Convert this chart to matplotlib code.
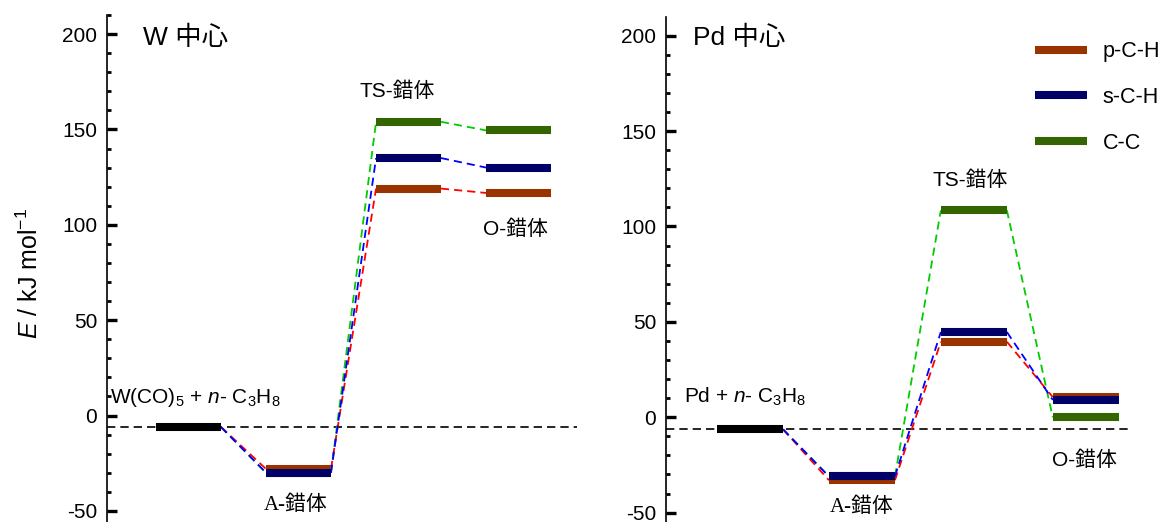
import matplotlib
matplotlib.use('Agg')
import matplotlib.pyplot as plt
from matplotlib.ticker import MultipleLocator

plt.rcParams['font.family'] = ['Liberation Sans', 'Noto Sans CJK JP']
plt.rcParams['mathtext.fontset'] = 'custom'
plt.rcParams['mathtext.rm'] = 'Liberation Sans'
plt.rcParams['mathtext.it'] = 'Liberation Sans:italic'
plt.rcParams['axes.unicode_minus'] = False

# --- data: energies (reactant, A, TS, O) ---
stages = ['reactant', 'A', 'TS', 'O']
series = ['p-C-H', 's-C-H', 'C-C']

w_ref = -6.0
w_pch = [-6.0, -28.0, 119.0, 116.7]
w_sch = [-6.0, -30.0, 135.0, 130.0]
w_cc = [-6.0, -30.0, 154.0, 149.5]

pd_ref = -6.3
pd_pch = [-6.3, -33.0, 39.6, 10.6]
pd_sch = [-6.3, -31.0, 44.7, 9.1]
pd_cc = [-6.3, -31.0, 108.5, 0.0]

# --- style ---
BAR_COLORS = {'p-C-H': '#993300', 's-C-H': '#000066', 'C-C': '#336600'}
LINE_COLORS = {'p-C-H': '#ff0000', 's-C-H': '#0000ff', 'C-C': '#00cc00'}
DRAW_ORDER = ['C-C', 'p-C-H', 's-C-H']
HALF = 0.295
BAR_LW = 5.8
FS = 15
CJK = ['Liberation Sans', 'Noto Sans CJK JP']
SERIF_CJK = ['Liberation Serif', 'Noto Sans CJK JP']


def setup_axis(ax, xlim, ylim):
    ax.set_xlim(*xlim)
    ax.set_ylim(*ylim)
    for side in ('top', 'right', 'bottom'):
        ax.spines[side].set_visible(False)
    ax.spines['left'].set_linewidth(1.2)
    ax.set_xticks([])
    ax.yaxis.set_major_locator(MultipleLocator(50))
    ax.yaxis.set_minor_locator(MultipleLocator(10))
    ax.tick_params(axis='y', which='major', direction='in', length=7.5,
                   width=2.4, labelsize=FS, pad=7)
    ax.tick_params(axis='y', which='minor', direction='in', length=3,
                   width=2.0)
    ax.patch.set_alpha(0)


def draw_panel(ax, ref, data, dash_xmax):
    ax.axhline(ref, xmin=0, xmax=dash_xmax, color='black', lw=1.2,
               linestyle=(0, (5, 3)), zorder=1)
    x = range(len(stages))
    # connectors
    for name in DRAW_ORDER:
        vals = data[name]
        for i in range(len(vals) - 1):
            ax.plot([x[i] + HALF, x[i + 1] - HALF], [vals[i], vals[i + 1]],
                    color=LINE_COLORS[name], lw=1.3,
                    linestyle=(0, (4.5, 2.8)), zorder=2)
    # reactant bar
    ax.plot([x[0] - HALF, x[0] + HALF], [ref, ref], color='black',
            lw=BAR_LW, solid_capstyle='butt', zorder=4)
    # level bars
    for name in DRAW_ORDER:
        vals = data[name]
        for i in range(1, len(vals)):
            ax.plot([x[i] - HALF, x[i] + HALF], [vals[i], vals[i]],
                    color=BAR_COLORS[name], lw=BAR_LW,
                    solid_capstyle='butt', zorder=4,
                    label=name if i == 1 else None)


fig = plt.figure(figsize=(11.63, 5.22), dpi=100)

ax1 = fig.add_axes([0.092, 0.0, 0.4106, 0.9713])
setup_axis(ax1, (-0.741, 3.6), (-55.8, 210.0))
draw_panel(ax1, w_ref, {'p-C-H': w_pch, 's-C-H': w_sch, 'C-C': w_cc}, 0.985)

ax1.text(-0.414, 198, 'W 中心', fontsize=19, family=CJK, va='center')
ax1.text(-0.714, 9.7, r'W(CO)$_5$ + $n$- C$_3$H$_8$', fontsize=FS,
         va='center')
ax1.text(0.977, -47, 'A-錯体', fontsize=FS, family=SERIF_CJK,
         ha='center', va='center')
ax1.text(1.893, 169.8, 'TS-錯体', fontsize=FS, family=CJK,
         ha='center', va='center')
ax1.text(2.968, 97.8, 'O-錯体', fontsize=FS, family=CJK,
         ha='center', va='center')

ax2 = fig.add_axes([0.5727, 0.0, 0.4273, 0.9674])
setup_axis(ax2, (-0.75, 3.69), (-54.9, 209.8))
draw_panel(ax2, pd_ref, {'p-C-H': pd_pch, 's-C-H': pd_sch, 'C-C': pd_cc},
           0.937)

ax2.text(-0.511, 198.8, 'Pd 中心', fontsize=19, family=CJK, va='center')
ax2.text(-0.591, 10.6, r'Pd + $n$- C$_3$H$_8$', fontsize=FS, va='center')
ax2.text(0.998, -47, 'A-錯体', fontsize=FS, family=SERIF_CJK,
         ha='center', va='center')
ax2.text(1.963, 124.4, 'TS-錯体', fontsize=FS, family=CJK,
         ha='center', va='center')
ax2.text(2.99, -22.4, 'O-錯体', fontsize=FS, family=CJK,
         ha='center', va='center')

handles, labels = ax2.get_legend_handles_labels()
order = [labels.index(s) for s in series]
ax2.legend([handles[i] for i in order], [labels[i] for i in order],
           loc='upper right', bbox_to_anchor=(1.02, 0.978), frameon=False,
           fontsize=15.5, handlelength=2.45, handletextpad=0.7,
           labelspacing=1.15, borderaxespad=0.2)

fig.text(0.026, 0.477, r'$E$ / kJ mol$^{-1}$', rotation=90, fontsize=18,
         ha='center', va='center')

fig.savefig('out.png', dpi=100)
